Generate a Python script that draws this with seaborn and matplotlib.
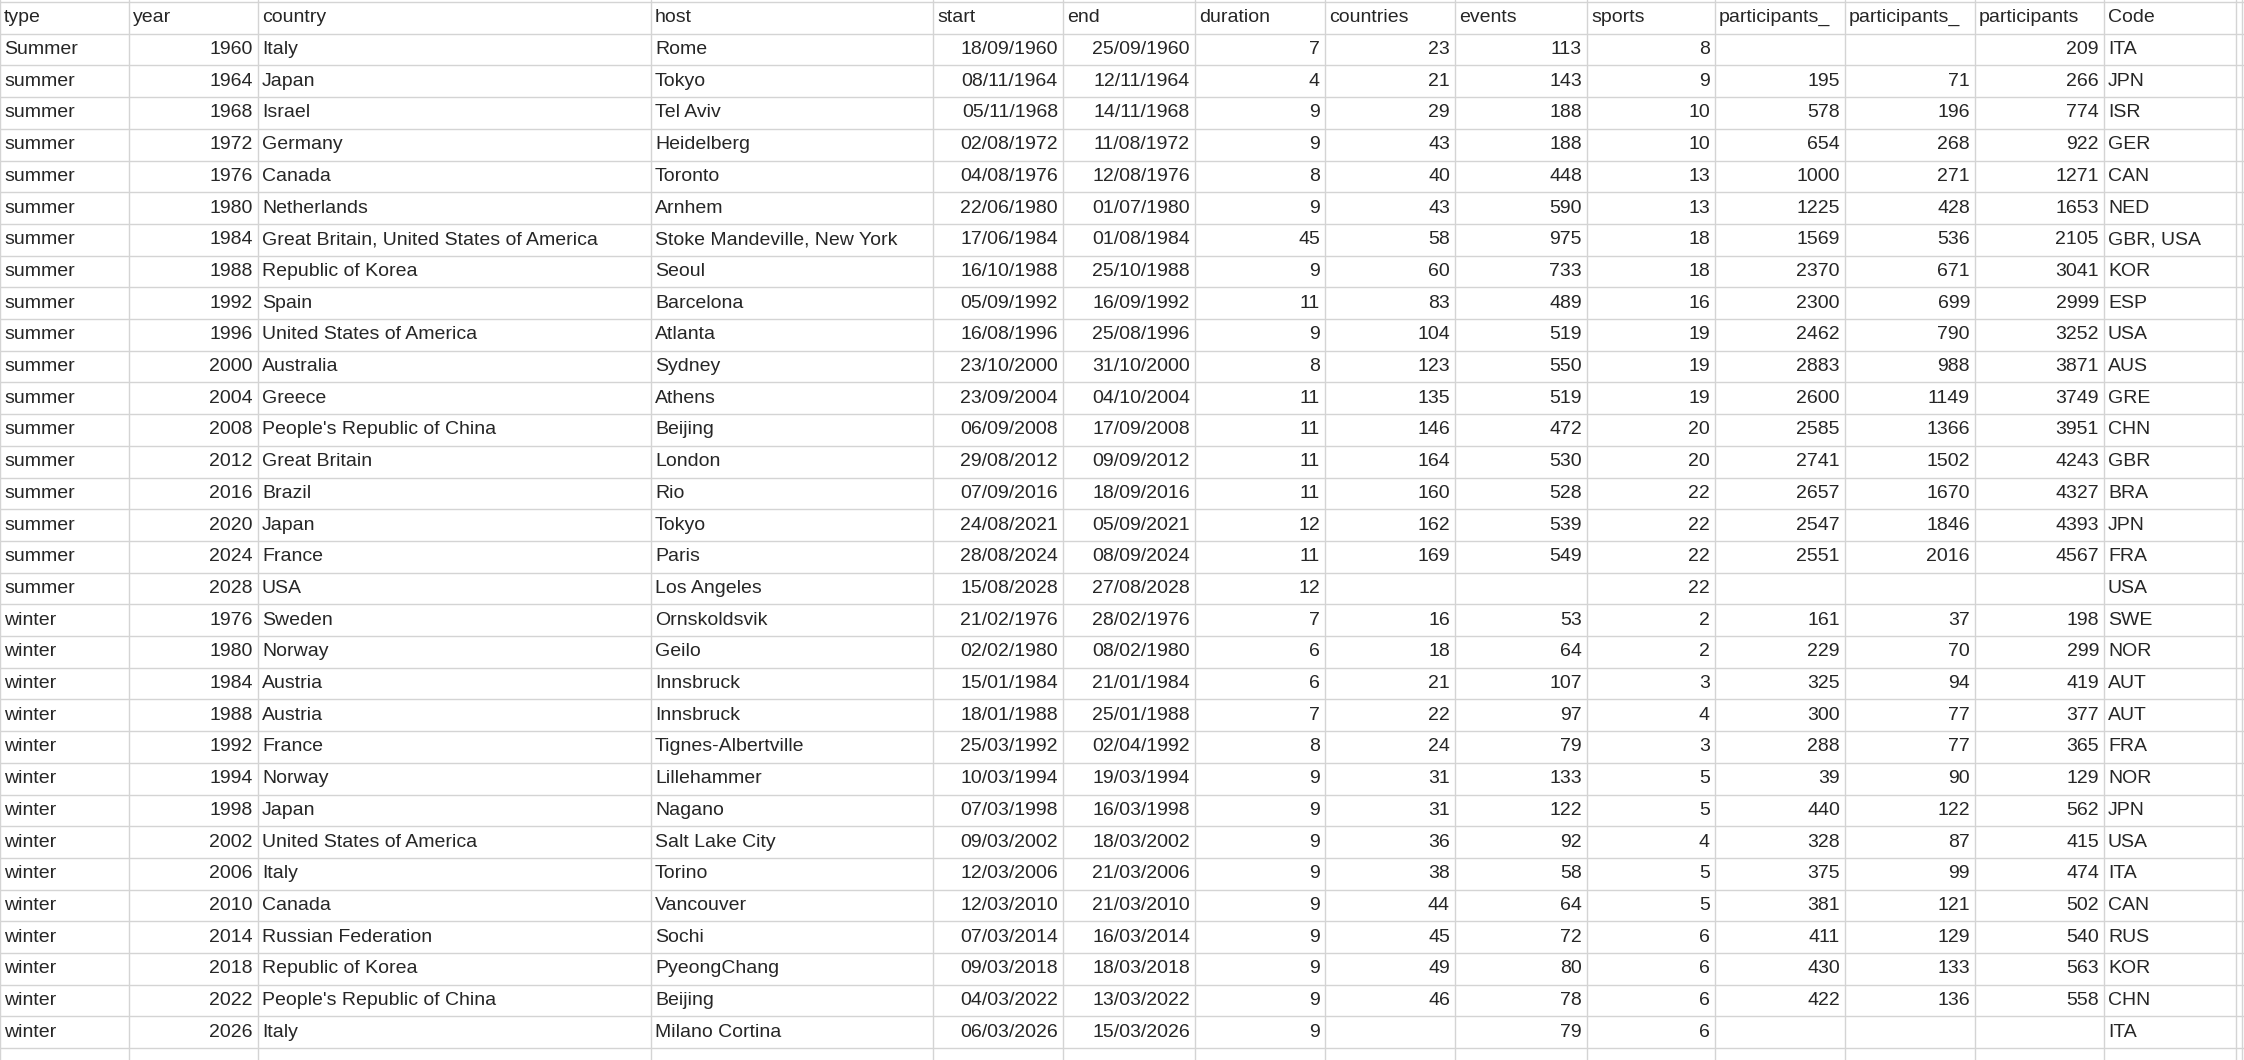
import numpy as np
import seaborn as sns
import matplotlib.pyplot as plt

sns.set_style("white")
plt.rcParams['font.family'] = ['Liberation Sans', 'DejaVu Sans']

headers = ["type", "year", "country", "host", "start", "end", "duration", "countries",
           "events", "sports", "participants_", "participants_", "participants", "Code"]

types = ["Summer"] + ["summer"] * 17 + ["winter"] * 14
years = [1960, 1964, 1968, 1972, 1976, 1980, 1984, 1988, 1992, 1996, 2000, 2004, 2008, 2012,
         2016, 2020, 2024, 2028, 1976, 1980, 1984, 1988, 1992, 1994, 1998, 2002, 2006, 2010,
         2014, 2018, 2022, 2026]
countries = ["Italy", "Japan", "Israel", "Germany", "Canada", "Netherlands",
             "Great Britain, United States of America", "Republic of Korea", "Spain",
             "United States of America", "Australia", "Greece", "People's Republic of China",
             "Great Britain", "Brazil", "Japan", "France", "USA", "Sweden", "Norway", "Austria",
             "Austria", "France", "Norway", "Japan", "United States of America", "Italy",
             "Canada", "Russian Federation", "Republic of Korea", "People's Republic of China",
             "Italy"]
hosts = ["Rome", "Tokyo", "Tel Aviv", "Heidelberg", "Toronto", "Arnhem",
         "Stoke Mandeville, New York", "Seoul", "Barcelona", "Atlanta", "Sydney", "Athens",
         "Beijing", "London", "Rio", "Tokyo", "Paris", "Los Angeles", "Ornskoldsvik", "Geilo",
         "Innsbruck", "Innsbruck", "Tignes-Albertville", "Lillehammer", "Nagano",
         "Salt Lake City", "Torino", "Vancouver", "Sochi", "PyeongChang", "Beijing",
         "Milano Cortina"]
starts = ["18/09/1960", "08/11/1964", "05/11/1968", "02/08/1972", "04/08/1976", "22/06/1980",
          "17/06/1984", "16/10/1988", "05/09/1992", "16/08/1996", "23/10/2000", "23/09/2004",
          "06/09/2008", "29/08/2012", "07/09/2016", "24/08/2021", "28/08/2024", "15/08/2028",
          "21/02/1976", "02/02/1980", "15/01/1984", "18/01/1988", "25/03/1992", "10/03/1994",
          "07/03/1998", "09/03/2002", "12/03/2006", "12/03/2010", "07/03/2014", "09/03/2018",
          "04/03/2022", "06/03/2026"]
ends = ["25/09/1960", "12/11/1964", "14/11/1968", "11/08/1972", "12/08/1976", "01/07/1980",
        "01/08/1984", "25/10/1988", "16/09/1992", "25/08/1996", "31/10/2000", "04/10/2004",
        "17/09/2008", "09/09/2012", "18/09/2016", "05/09/2021", "08/09/2024", "27/08/2028",
        "28/02/1976", "08/02/1980", "21/01/1984", "25/01/1988", "02/04/1992", "19/03/1994",
        "16/03/1998", "18/03/2002", "21/03/2006", "21/03/2010", "16/03/2014", "18/03/2018",
        "13/03/2022", "15/03/2026"]
duration = [7, 4, 9, 9, 8, 9, 45, 9, 11, 9, 8, 11, 11, 11, 11, 12, 11, 12,
            7, 6, 6, 7, 8, 9, 9, 9, 9, 9, 9, 9, 9, 9]
n_countries = [23, 21, 29, 43, 40, 43, 58, 60, 83, 104, 123, 135, 146, 164, 160, 162, 169, None,
               16, 18, 21, 22, 24, 31, 31, 36, 38, 44, 45, 49, 46, None]
events = [113, 143, 188, 188, 448, 590, 975, 733, 489, 519, 550, 519, 472, 530, 528, 539, 549, None,
          53, 64, 107, 97, 79, 133, 122, 92, 58, 64, 72, 80, 78, 79]
sports = [8, 9, 10, 10, 13, 13, 18, 18, 16, 19, 19, 19, 20, 20, 22, 22, 22, 22,
          2, 2, 3, 4, 3, 5, 5, 4, 5, 5, 6, 6, 6, 6]
part_m = [None, 195, 578, 654, 1000, 1225, 1569, 2370, 2300, 2462, 2883, 2600, 2585, 2741, 2657,
          2547, 2551, None, 161, 229, 325, 300, 288, 39, 440, 328, 375, 381, 411, 430, 422, None]
part_f = [None, 71, 196, 268, 271, 428, 536, 671, 699, 790, 988, 1149, 1366, 1502, 1670, 1846,
          2016, None, 37, 70, 94, 77, 77, 90, 122, 87, 99, 121, 129, 133, 136, None]
part_t = [209, 266, 774, 922, 1271, 1653, 2105, 3041, 2999, 3252, 3871, 3749, 3951, 4243, 4327,
          4393, 4567, None, 198, 299, 419, 377, 365, 129, 562, 415, 474, 502, 540, 563, 558, None]
codes = ["ITA", "JPN", "ISR", "GER", "CAN", "NED", "GBR, USA", "KOR", "ESP", "USA", "AUS", "GRE",
         "CHN", "GBR", "BRA", "JPN", "FRA", "USA", "SWE", "NOR", "AUT", "AUT", "FRA", "NOR", "JPN",
         "USA", "ITA", "CAN", "RUS", "KOR", "CHN", "ITA"]

columns = [types, years, countries, hosts, starts, ends, duration, n_countries, events, sports,
           part_m, part_f, part_t, codes]
numeric = [False, True, False, False, True, True, True, True, True, True, True, True, True, False]

W, H = 2244, 1060
edges = [0, 129, 258, 651, 933, 1063, 1195, 1325, 1455, 1587, 1715, 1845, 1975, 2104, 2236]
row_h = 31.7
top = 2

fig = plt.figure(figsize=(W / 100, H / 100), dpi=100)
ax = fig.add_axes([0, 0, 1, 1])
ax.set_xlim(0, W)
ax.set_ylim(H, 0)
ax.axis("off")

n_rows = len(years) + 1
grid = "#d4d4d4"
for i in range(n_rows + 1):
    y = top + i * row_h
    ax.plot([0, W], [y, y], color=grid, lw=1)
for x in edges + [W - 2]:
    ax.plot([x, x], [0, H], color=grid, lw=1)

fs = 14
for j, h in enumerate(headers):
    ax.text(edges[j] + 4, top + row_h / 2, h, va="center", ha="left", fontsize=fs)

for i in range(len(years)):
    yc = top + (i + 1.5) * row_h
    for j, col in enumerate(columns):
        v = col[i]
        if v is None:
            continue
        if numeric[j]:
            ax.text(edges[j + 1] - 5, yc, str(v), va="center", ha="right", fontsize=fs)
        else:
            ax.text(edges[j] + 4, yc, str(v), va="center", ha="left", fontsize=fs)

fig.savefig("out.png", dpi=100, facecolor="white")
